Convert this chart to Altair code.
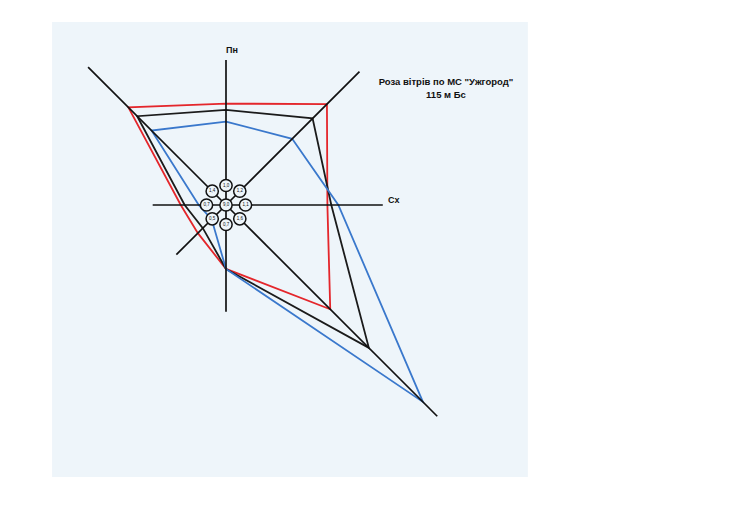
import altair as alt
import pandas as pd

# Wind rose data (%), directions clockwise from North
directions = ["Пн", "ПнСх", "Сх", "ПдСх", "Пд", "ПдЗх", "Зх", "ПнЗх"]
angles = [0, 45, 90, 135, 180, 225, 270, 315]
red_vals = [13.0, 18.3, 13.0, 18.9, 8.2, 5.1, 5.8, 17.7]
black_vals = [12.2, 15.7, 13.5, 25.9, 8.2, 4.2, 5.3, 16.1]
blue_vals = [10.7, 12.0, 14.4, 35.7, 8.2, 2.6, 3.5, 13.5]
series_names = ["Січень", "Рік", "Липень"]
series_colors = ["#e4262b", "#1b1b1b", "#3a78cc"]

# axis spoke lengths (same units)
spoke_len = [18.6, 24.2, 20.1, 38.3, 13.7, 9.0, 9.4, 25.0]
# small calm/label circles
circle_labels = ["1,0", "1,2", "1,1", "1,6", "0,7", "0,5", "0,7", "1,4"]
center_label = "9,0"
circle_r = 2.5

title_lines = ["Роза вітрів по МС \"Ужгород\"", "115 м Бс"]

PX = 7.8  # pixels per unit
W, H = 730, 485
cx, cy = 218, 197
xdom = [-cx / PX, (W - cx) / PX]
ydom = [-(H - cy) / PX, cy / PX]
xs = alt.Scale(domain=xdom, nice=False, zero=False)
ys = alt.Scale(domain=ydom, nice=False, zero=False)
BG = "#eef5fa"

rows = []
for name, vals in zip(series_names, [red_vals, black_vals, blue_vals]):
    for i in range(9):
        k = i % 8
        rows.append({"series": name, "dir": directions[k], "angle": angles[k],
                     "value": vals[k], "order": i})
poly = pd.DataFrame(rows)

spokes = pd.DataFrame({"dir": directions, "angle": angles, "len": spoke_len})
circ = pd.DataFrame({"dir": directions + ["calm"], "angle": angles + [0],
                     "r": [circle_r] * 8 + [0.0], "label": circle_labels + [center_label]})

panel = pd.DataFrame({"x0": [-22.3], "x1": [38.7], "y0": [-34.87], "y1": [23.46]})

X = lambda f: alt.X(f, type="quantitative", scale=xs, axis=None)
Y = lambda f: alt.Y(f, type="quantitative", scale=ys, axis=None)

bg = alt.Chart(panel).mark_rect(color=BG).encode(
    x=X("x0"), x2="x1", y=Y("y0"), y2="y1")

spk = alt.Chart(spokes).transform_calculate(
    xe="datum.len*sin(datum.angle*PI/180)",
    ye="datum.len*cos(datum.angle*PI/180)",
    z="0",
).mark_rule(color="#111111", strokeWidth=1.7).encode(
    x=X("z"), y=Y("z"), x2="xe", y2="ye")

lines = alt.Chart(poly).transform_calculate(
    x="datum.value*sin(datum.angle*PI/180)",
    y="datum.value*cos(datum.angle*PI/180)",
).mark_line(strokeWidth=1.8).encode(
    x=X("x"), y=Y("y"),
    order="order:Q",
    color=alt.Color("series:N", scale=alt.Scale(domain=series_names, range=series_colors), legend=None),
    detail="series:N",
)

circ_base = alt.Chart(circ).transform_calculate(
    x="datum.r*sin(datum.angle*PI/180)",
    y="datum.r*cos(datum.angle*PI/180)",
)
dots = circ_base.mark_point(shape="circle", size=150, filled=False, fill=BG, fillOpacity=1,
                            stroke="#111111", strokeWidth=1.5, opacity=1).encode(x=X("x"), y=Y("y"))
dot_txt = circ_base.mark_text(fontSize=4.5, font="Liberation Sans", color="#111111").encode(
    x=X("x"), y=Y("y"), text="label:N")

labels = pd.DataFrame({"lx": [0.77, 21.5], "ly": [19.9, 0.6], "t": ["Пн", "Сх"]})
lab = alt.Chart(labels).mark_text(fontSize=9, fontWeight="bold", font="Liberation Sans",
                                  color="#111111").encode(x=X("lx"), y=Y("ly"), text="t:N")

tdf = pd.DataFrame({"tx": [28.2, 28.2], "ty": [15.77, 14.1], "t": title_lines})
ttl = alt.Chart(tdf).mark_text(fontSize=9.5, fontWeight="bold", font="Liberation Sans",
                               color="#111111").encode(x=X("tx"), y=Y("ty"), text="t:N")

chart = alt.layer(bg, lines, spk, dots, dot_txt, lab, ttl).properties(
    width=W, height=H, autosize=alt.AutoSizeParams(type="none"), padding=0,
    background="white",
).configure_view(stroke=None)

chart.save("out.html", embed_options={"renderer": "svg", "actions": False})
